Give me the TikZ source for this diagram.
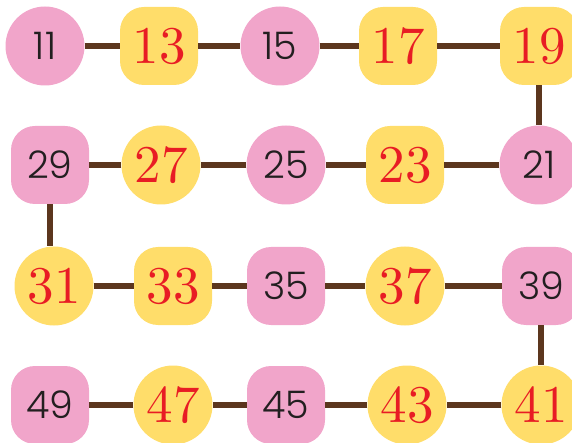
\documentclass[tikz,border=0pt]{standalone}
\usepackage{fontspec}
\newfontfamily\numsans{Poppins}[UprightFont=* Light]
\newfontfamily\numserif{lmroman10-regular}[Extension=.otf]
\definecolor{petal}{RGB}{241,165,202}
\definecolor{honey}{RGB}{255,221,106}
\definecolor{bark}{RGB}{92,54,30}
\definecolor{flame}{RGB}{232,28,36}
\definecolor{ink}{RGB}{35,31,32}

\begin{document}
\begin{tikzpicture}[x=1pt,y=-1pt,
  disc/.style={circle, inner sep=0pt, minimum size=79pt},
  tile/.style={rectangle, rounded corners=24pt, inner sep=0pt, minimum size=78pt},
  rose/.style={fill=petal, text=ink, font=\numsans\fontsize{38}{38}\selectfont},
  gold/.style={fill=honey, text=flame, font=\numserif\fontsize{53}{53}\selectfont},
  link/.style={draw=bark, line width=5.5pt}]
\useasboundingbox (0,0) rectangle (572,443);
\node[disc,rose] (n11) at (45,46) {11};
\node[tile,gold] (n13) at (159,46) {13};
\node[disc,rose] (n15) at (280,46) {15};
\node[tile,gold] (n17) at (398,46) {17};
\node[tile,gold] (n19) at (539,46) {19};
\node[tile,rose] (n29) at (50,165) {29};
\node[disc,gold] (n27) at (161,165) {27};
\node[disc,rose] (n25) at (286,165) {25};
\node[tile,gold] (n23) at (405,165) {23};
\node[disc,rose] (n21) at (539,165) {21};
\node[disc,gold] (n31) at (54,286) {31};
\node[tile,gold] (n33) at (173,286) {33};
\node[tile,rose] (n35) at (286,286) {35};
\node[disc,gold] (n37) at (405,286) {37};
\node[tile,rose] (n39) at (541,286) {39};
\node[tile,rose] (n49) at (50,405) {49};
\node[disc,gold] (n47) at (173,405) {47};
\node[tile,rose] (n45) at (286,405) {45};
\node[disc,gold] (n43) at (407,405) {43};
\node[disc,gold] (n41) at (541,405) {41};
\foreach \a/\b in {11/13,13/15,15/17,17/19,19/21,21/23,23/25,25/27,27/29,
  31/33,33/35,35/37,37/39,39/41,41/43,43/45,45/47,47/49}
  \draw[link] (n\a) -- (n\b);
\draw[link] (n29.south) -- (n29.south |- n31.north);
\end{tikzpicture}
\end{document}
